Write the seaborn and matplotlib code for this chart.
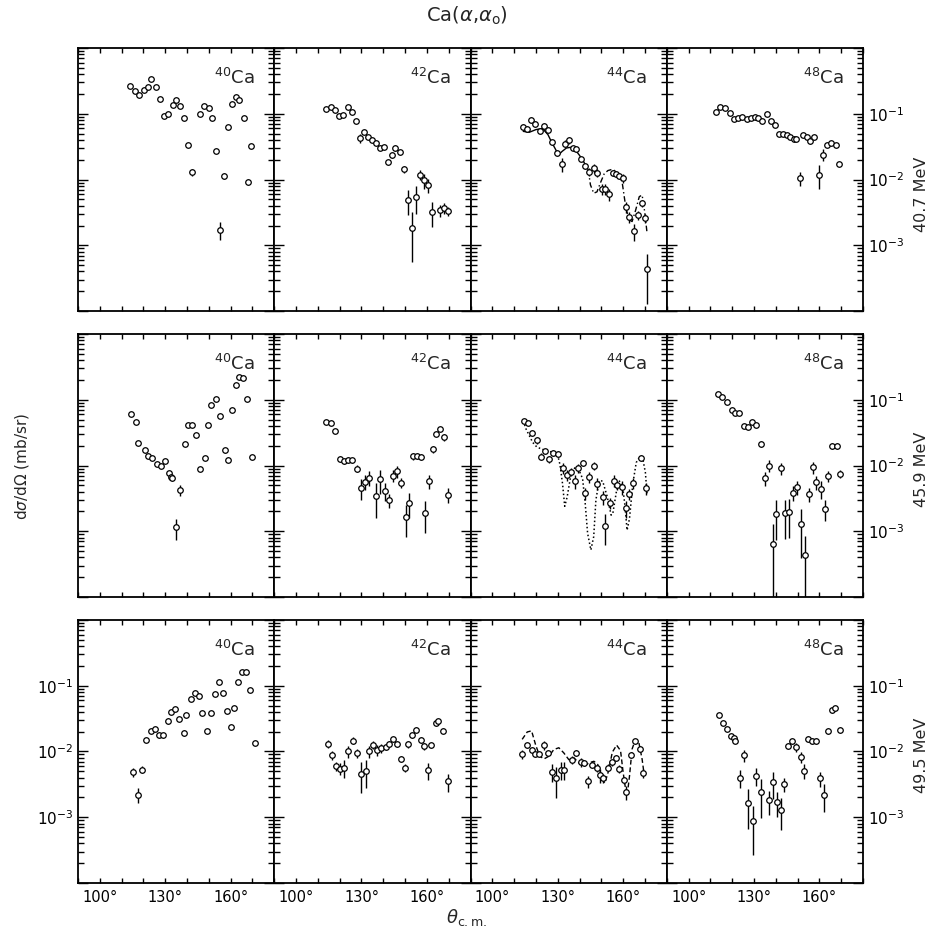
import matplotlib
matplotlib.use("Agg")
import matplotlib.pyplot as plt
import matplotlib.ticker as ticker
import numpy as np
import seaborn as sns

# =============================================================================
# Ca(alpha, alpha0) back-angle cross sections
# theta in degrees (c.m.), sigma in mb/sr, err = relative error
# =============================================================================

isotopes = ["40", "42", "44", "48"]
energies = ["40.7 MeV", "45.9 MeV", "49.5 MeV"]

# ---- 40.7 MeV ----
th_40_a = [113.8,116.2,118.2,120.3,122.0,123.5,125.8,127.7,129.4,131.5,133.4,135.1,136.8,138.5,140.5,142.3,145.8,147.8,150.0,151.4,153.1,155.1,156.9,158.6,160.4,162.3,164.0,166.2,167.8,169.4]
xs_40_a = [0.265,0.222,0.193,0.230,0.259,0.336,0.259,0.166,0.092,0.101,0.136,0.160,0.131,0.087,0.034,0.0129,0.100,0.131,0.121,0.087,0.0268,0.00174,0.0115,0.0633,0.139,0.182,0.160,0.085,0.0093,0.032]
er_40_a = [0.04,0.04,0.04,0.04,0.04,0.04,0.04,0.04,0.04,0.04,0.04,0.04,0.04,0.04,0.05,0.12,0.04,0.04,0.04,0.04,0.05,0.3,0.1,0.04,0.04,0.04,0.04,0.04,0.1,0.05]

th_42_a = [113.8,115.8,117.8,119.8,121.5,123.7,125.5,127.5,129.1,131.1,133.1,134.8,136.5,138.6,140.5,142.2,143.8,145.5,147.5,149.5,151.4,153.1,155.1,156.8,158.8,160.5,162.3,166.0,167.8,169.7]
xs_42_a = [0.119,0.126,0.116,0.094,0.097,0.126,0.106,0.078,0.043,0.052,0.044,0.040,0.0356,0.0302,0.0309,0.0184,0.0239,0.0302,0.0259,0.0144,0.0049,0.00186,0.0055,0.0118,0.0097,0.0083,0.0032,0.0034,0.0037,0.0033]
er_42_a = [0.04,0.04,0.04,0.04,0.04,0.04,0.04,0.05,0.15,0.06,0.06,0.05,0.05,0.08,0.06,0.08,0.1,0.1,0.1,0.12,0.4,0.7,0.45,0.17,0.25,0.25,0.4,0.2,0.2,0.15]

th_44_a = [114.2,115.7,117.7,119.8,121.8,123.7,125.4,127.2,129.5,131.8,133.4,135.2,136.9,138.5,140.6,142.6,144.4,146.5,148.0,150.3,151.8,153.7,155.4,156.8,158.3,159.8,161.4,162.6,164.9,166.9,168.7,170.0,170.9]
xs_44_a = [0.0625,0.0597,0.080,0.070,0.054,0.066,0.0575,0.0368,0.0253,0.0172,0.0351,0.0395,0.0302,0.0291,0.0207,0.0158,0.0132,0.0149,0.0128,0.0072,0.0072,0.0060,0.0128,0.0121,0.0114,0.0105,0.00386,0.00272,0.00164,0.00288,0.00435,0.00256,0.00043]
er_44_a = [0.1,0.1,0.1,0.1,0.1,0.08,0.08,0.1,0.1,0.25,0.12,0.12,0.08,0.08,0.08,0.1,0.15,0.15,0.15,0.2,0.2,0.2,0.1,0.1,0.1,0.15,0.2,0.2,0.3,0.15,0.12,0.15,0.7]

th_48_a = [112.8,114.6,116.5,118.9,120.8,122.8,124.6,126.6,128.5,130.3,131.8,133.8,135.8,138.0,139.5,141.5,143.4,145.1,146.6,148.2,149.2,151.1,152.6,154.3,155.8,157.7,160.0,161.5,163.5,165.4,167.4,169.2]
xs_48_a = [0.106,0.126,0.124,0.104,0.082,0.087,0.090,0.082,0.087,0.089,0.087,0.079,0.100,0.077,0.067,0.050,0.050,0.048,0.044,0.042,0.042,0.0105,0.048,0.044,0.038,0.044,0.0118,0.024,0.034,0.0356,0.034,0.0174]
er_48_a = [0.04,0.04,0.04,0.04,0.04,0.04,0.04,0.04,0.04,0.04,0.04,0.04,0.04,0.04,0.04,0.04,0.04,0.04,0.04,0.05,0.05,0.25,0.05,0.05,0.08,0.05,0.4,0.2,0.05,0.05,0.05,0.08]

# theory curve, 44Ca at 40.7 MeV (solid up to 144 deg, dashed after)
cth_a = [114.2,117.0,120.0,123.0,125.5,127.0,129.5,130.5,132.0,134.0,136.0,138.0,140.0,142.0,144.0,145.0,146.5,148.0,149.5,151.3,153.0,155.0,157.0,159.5,161.3,162.9,164.1,165.7,167.4,168.7,169.9,170.9]
cxs_a = [0.054,0.0524,0.0575,0.0597,0.0483,0.0382,0.0268,0.0239,0.0268,0.0302,0.0309,0.0284,0.0233,0.0184,0.0140,0.0083,0.0062,0.0065,0.0088,0.0122,0.0137,0.0143,0.0132,0.0093,0.0036,0.00242,0.0023,0.0034,0.0055,0.0058,0.0032,0.0016]

# ---- 45.9 MeV ----
th_40_b = [114.2,116.5,117.7,120.5,122.3,123.8,126.2,128.2,130.0,131.8,132.6,133.2,135.1,136.9,139.1,140.5,142.3,144.3,145.8,148.2,149.7,151.2,153.2,155.1,157.4,158.9,160.5,162.5,164.0,165.7,167.7,170.0]
xs_40_b = [0.060,0.0455,0.022,0.017,0.0138,0.0128,0.0104,0.0100,0.0118,0.0077,0.0067,0.0064,0.00115,0.00425,0.021,0.042,0.041,0.029,0.0090,0.0131,0.041,0.084,0.102,0.056,0.017,0.0123,0.071,0.170,0.220,0.212,0.102,0.0134]
er_40_b = [0.04,0.04,0.04,0.04,0.04,0.04,0.04,0.04,0.04,0.08,0.08,0.1,0.35,0.2,0.04,0.04,0.04,0.04,0.05,0.05,0.04,0.04,0.04,0.04,0.08,0.08,0.04,0.04,0.04,0.04,0.04,0.05]

th_42_b = [113.8,115.8,117.8,120.0,121.8,123.8,125.7,128.0,129.7,131.4,133.4,136.5,138.6,140.9,142.6,144.5,146.2,148.2,150.3,151.8,153.8,155.5,157.1,159.1,160.8,162.6,164.2,166.2,168.0,169.7]
xs_42_b = [0.0466,0.0445,0.0333,0.0125,0.0116,0.0123,0.0120,0.0090,0.0046,0.0057,0.0065,0.0035,0.0062,0.0041,0.0030,0.0070,0.0082,0.0055,0.00166,0.0027,0.0140,0.0140,0.0134,0.0019,0.0058,0.0176,0.0303,0.036,0.027,0.0036]
er_42_b = [0.04,0.04,0.06,0.1,0.1,0.1,0.08,0.12,0.35,0.25,0.25,0.55,0.4,0.3,0.25,0.2,0.2,0.18,0.5,0.4,0.12,0.1,0.1,0.5,0.25,0.12,0.08,0.06,0.12,0.25]

th_44_b = [114.6,116.3,118.3,120.3,122.2,124.0,126.2,128.0,129.9,132.2,134.1,136.0,137.8,139.5,141.4,142.6,144.4,146.5,148.0,150.6,151.8,154.1,155.7,157.2,159.5,161.1,162.9,164.7,168.3,170.3]
xs_44_b = [0.0477,0.044,0.031,0.0244,0.0137,0.0164,0.0126,0.0155,0.0150,0.0092,0.0072,0.0081,0.0058,0.0092,0.011,0.0038,0.0067,0.0100,0.0053,0.0033,0.00122,0.0027,0.0059,0.0050,0.0047,0.00225,0.0037,0.0054,0.0132,0.0045]
er_44_b = [0.06,0.06,0.08,0.12,0.12,0.1,0.12,0.1,0.1,0.2,0.2,0.15,0.25,0.15,0.12,0.2,0.2,0.15,0.2,0.25,0.5,0.2,0.2,0.15,0.25,0.3,0.2,0.2,0.1,0.2]

th_48_b = [113.5,115.4,117.4,119.7,121.2,123.2,125.4,127.1,129.2,130.9,133.1,135.2,136.8,138.8,140.3,142.5,144.3,146.2,147.7,149.5,151.5,153.4,155.1,157.1,158.6,160.5,162.5,164.0,166.0,168.0,169.5]
xs_48_b = [0.122,0.111,0.091,0.070,0.062,0.0628,0.0394,0.039,0.0454,0.0418,0.0213,0.0064,0.0100,0.00065,0.00185,0.0091,0.0019,0.00196,0.00385,0.0047,0.0013,0.00043,0.0037,0.0094,0.0056,0.0044,0.0022,0.0069,0.0201,0.0201,0.0075]
er_48_b = [0.03,0.03,0.04,0.05,0.05,0.05,0.06,0.06,0.06,0.06,0.1,0.25,0.2,0.98,0.6,0.2,0.6,0.6,0.25,0.25,0.7,0.99,0.25,0.2,0.25,0.3,0.35,0.2,0.1,0.1,0.15]

# theory curve, 44Ca at 45.9 MeV (dotted)
cth_b = [114.2,115.5,117.0,118.5,120.3,122.5,125.0,127.5,129.9,131.0,132.2,133.2,134.3,136.0,137.8,139.7,141.4,142.6,143.7,145.2,146.5,147.5,149.0,150.6,152.6,154.5,155.3,157.0,158.3,159.8,160.8,161.8,162.9,164.4,166.0,167.4,168.9,170.2,171.0]
cxs_b = [0.0477,0.0357,0.0283,0.0225,0.0193,0.0178,0.0168,0.0159,0.0147,0.0104,0.0053,0.0024,0.0033,0.0071,0.0092,0.0086,0.0063,0.00264,0.00093,0.00052,0.00083,0.0030,0.0059,0.0058,0.00345,0.00176,0.0019,0.0042,0.0058,0.0047,0.0025,0.00104,0.00155,0.0052,0.0111,0.0132,0.0132,0.0078,0.0035]

# ---- 49.5 MeV ----
th_40_c = [115.4,117.4,119.2,121.4,123.4,125.5,127.2,129.1,131.1,132.8,134.6,136.5,138.5,139.7,141.8,143.5,145.4,146.8,149.1,150.8,152.8,154.6,156.3,158.3,160.0,161.7,163.5,165.1,166.9,169.1,171.1]
xs_40_c = [0.0049,0.0022,0.0053,0.0151,0.0208,0.0223,0.0176,0.0176,0.029,0.0398,0.0448,0.0314,0.0191,0.0358,0.0638,0.0762,0.0702,0.0379,0.0208,0.0389,0.0753,0.112,0.078,0.0418,0.0237,0.0464,0.112,0.162,0.160,0.0858,0.0133]
er_40_c = [0.15,0.25,0.12,0.05,0.05,0.05,0.1,0.1,0.1,0.05,0.05,0.05,0.1,0.08,0.04,0.04,0.04,0.04,0.05,0.04,0.04,0.04,0.04,0.04,0.05,0.04,0.04,0.04,0.04,0.04,0.05]

th_42_c = [114.8,116.5,118.3,120.3,122.1,124.0,126.1,128.1,129.8,131.9,133.3,135.3,137.1,138.9,141.2,142.6,144.6,146.4,148.1,149.9,151.5,153.3,155.1,157.3,158.8,160.6,162.1,164.0,165.2,167.6,169.5]
xs_42_c = [0.0131,0.0087,0.0060,0.0055,0.0057,0.0100,0.0146,0.0094,0.0046,0.0051,0.0100,0.0127,0.0106,0.0113,0.0119,0.013,0.0153,0.013,0.0077,0.0057,0.013,0.0176,0.0215,0.0151,0.0121,0.0052,0.0124,0.0267,0.029,0.0208,0.0035]
er_42_c = [0.15,0.15,0.15,0.2,0.3,0.2,0.12,0.15,0.5,0.45,0.2,0.15,0.2,0.15,0.1,0.1,0.08,0.1,0.1,0.15,0.12,0.1,0.08,0.1,0.12,0.3,0.1,0.08,0.08,0.08,0.3]

th_44_c = [113.7,116.0,118.0,119.8,121.4,123.7,125.5,127.2,129.2,131.3,133.1,136.6,138.5,140.5,142.0,143.8,145.8,147.8,149.6,150.8,153.1,155.0,156.5,158.3,160.3,161.5,163.8,165.6,167.5,169.2]
xs_44_c = [0.0092,0.0124,0.0107,0.0090,0.0092,0.0125,0.0095,0.0049,0.0039,0.0053,0.0053,0.0075,0.0095,0.0069,0.0067,0.0035,0.0063,0.0056,0.0044,0.0039,0.0057,0.0068,0.0081,0.0055,0.0037,0.0024,0.0089,0.0142,0.0109,0.0047]
er_44_c = [0.15,0.08,0.08,0.08,0.08,0.15,0.1,0.3,0.5,0.3,0.3,0.15,0.1,0.15,0.1,0.2,0.12,0.12,0.25,0.15,0.12,0.1,0.1,0.15,0.12,0.25,0.1,0.08,0.1,0.15]

th_48_c = [113.9,115.8,117.7,119.5,120.8,121.5,123.8,125.3,127.3,129.4,131.1,133.3,137.0,138.9,140.5,142.3,143.8,145.8,147.3,149.4,151.4,153.0,154.8,156.8,158.3,160.2,162.0,163.8,165.9,167.3,169.5]
xs_48_c = [0.0361,0.0270,0.0219,0.0173,0.0158,0.0142,0.0040,0.0088,0.00167,0.00088,0.0043,0.0024,0.0018,0.0034,0.0017,0.0013,0.0032,0.0122,0.0142,0.0115,0.0083,0.0051,0.0154,0.0145,0.0145,0.0039,0.0022,0.0206,0.0425,0.0452,0.0214]
er_48_c = [0.05,0.05,0.05,0.06,0.06,0.06,0.3,0.2,0.6,0.7,0.3,0.6,0.4,0.45,0.4,0.5,0.25,0.1,0.1,0.15,0.2,0.25,0.1,0.1,0.1,0.25,0.45,0.1,0.08,0.08,0.1]

# theory curve, 44Ca at 49.5 MeV (dashed)
cth_c = [113.7,116.0,118.0,119.8,121.7,123.7,126.0,128.2,130.5,132.8,135.1,137.4,139.7,142.0,144.3,146.6,148.4,150.4,151.6,153.4,155.0,157.0,158.8,160.0,161.1,161.8,162.9,164.1,165.6,167.2,168.7,169.5]
cxs_c = [0.0153,0.0198,0.0206,0.0128,0.0085,0.0077,0.0085,0.0107,0.0114,0.0095,0.0075,0.0080,0.0067,0.0059,0.0067,0.0071,0.0063,0.0039,0.0033,0.0052,0.0097,0.0125,0.0103,0.0048,0.0027,0.0021,0.0042,0.0109,0.0151,0.0137,0.0076,0.0048]

# rows = energies, columns = isotopes
panels = [
    [(th_40_a, xs_40_a, er_40_a), (th_42_a, xs_42_a, er_42_a), (th_44_a, xs_44_a, er_44_a), (th_48_a, xs_48_a, er_48_a)],
    [(th_40_b, xs_40_b, er_40_b), (th_42_b, xs_42_b, er_42_b), (th_44_b, xs_44_b, er_44_b), (th_48_b, xs_48_b, er_48_b)],
    [(th_40_c, xs_40_c, er_40_c), (th_42_c, xs_42_c, er_42_c), (th_44_c, xs_44_c, er_44_c), (th_48_c, xs_48_c, er_48_c)],
]

# =============================================================================
# plotting
# =============================================================================
sns.set_style("ticks")
plt.rcParams['font.family'] = ['DejaVu Sans']
plt.rcParams['mathtext.fontset'] = 'dejavusans'

fig = plt.figure(figsize=(9.33, 9.36), dpi=100)
axes = fig.subplots(3, 4)
fig.subplots_adjust(left=0.0836, right=0.925, bottom=0.0566, top=0.9487, wspace=0, hspace=0.087)

# log-axis minor tick positions (2..9 in every decade)
minor_locs = [s * 10.0 ** d for d in range(-4, 0) for s in range(2, 10)]


def decade_label(v, pos):
    e = int(round(np.log10(v)))
    if -3 <= e <= -1:
        return r"$10^{%d}$" % e
    return ""


def xlabel_fmt(v, pos):
    if int(round(v)) in (100, 130, 160):
        return "%d°" % int(round(v))
    return ""


for r in range(3):
    for c in range(4):
        ax = axes[r, c]
        th, xs, er = panels[r][c]
        th = np.array(th)
        xs = np.array(xs)
        er = np.array(er)
        ax.set_yscale('log')
        lo = xs * np.minimum(er, 0.995)
        hi = xs * er
        ax.errorbar(th, xs, yerr=[lo, hi], fmt='none', ecolor='black', elinewidth=1.0, capsize=0, zorder=2)
        sns.scatterplot(x=th, y=xs, ax=ax, marker='o', s=16, color='white',
                        edgecolor='black', linewidth=0.9, zorder=3)

        # theory curves for 44Ca
        if c == 2 and r == 0:
            sns.lineplot(x=cth_a[:15], y=cxs_a[:15], ax=ax, color='black',
                         linewidth=1.0, estimator=None, sort=False)
            sns.lineplot(x=cth_a[14:], y=cxs_a[14:], ax=ax, color='black',
                         linewidth=1.0, linestyle=(0, (4, 2, 1, 2)), estimator=None, sort=False)
        if c == 2 and r == 1:
            sns.lineplot(x=cth_b, y=cxs_b, ax=ax, color='black', linewidth=1.1,
                         linestyle=(0, (1, 1.6)), estimator=None, sort=False)
        if c == 2 and r == 2:
            sns.lineplot(x=cth_c, y=cxs_c, ax=ax, color='black', linewidth=1.0,
                         linestyle=(0, (3.5, 2)), estimator=None, sort=False)

        ax.text(0.9, 0.885, r"$^{%s}$Ca" % isotopes[c], transform=ax.transAxes,
                ha='right', va='center', fontsize=13)

        ax.set_xlim(90, 180)
        ax.set_ylim(1e-4, 1)
        ax.set_xlabel("")
        ax.set_ylabel("")
        ax.xaxis.set_major_locator(ticker.MultipleLocator(10))
        ax.xaxis.set_major_formatter(ticker.FuncFormatter(xlabel_fmt))
        ax.xaxis.set_minor_locator(ticker.NullLocator())
        ax.yaxis.set_major_locator(ticker.FixedLocator([1e-4, 1e-3, 1e-2, 1e-1, 1e0]))
        ax.yaxis.set_minor_locator(ticker.FixedLocator(minor_locs))
        ax.yaxis.set_major_formatter(ticker.FuncFormatter(decade_label))
        ax.yaxis.set_minor_formatter(ticker.NullFormatter())
        ax.tick_params(which='both', direction='in', top=True, right=True, left=True,
                       bottom=True, width=1.0, colors='black')
        ax.tick_params(axis='x', which='major', length=3.5, pad=5, labelsize=10.5)
        ax.tick_params(axis='y', which='major', length=7, labelsize=11)
        ax.tick_params(axis='y', which='minor', length=4, width=1.0)
        ax.tick_params(labelleft=(c == 0 and r == 2), labelright=(c == 3), labelbottom=(r == 2))
        for s in ax.spines.values():
            s.set_linewidth(1.3)
            s.set_color('black')

# energy labels on the right
for r, y in enumerate([0.792, 0.499, 0.193]):
    fig.text(0.988, y, energies[r], rotation=90, ha='center', va='center', fontsize=11.5)

fig.text(0.024, 0.502, r"d$\sigma$/d$\Omega$ (mb/sr)", rotation=90, ha='center', va='center', fontsize=11)
fig.text(0.5, 0.983, r"Ca($\alpha$,$\alpha_{\rm o}$)", ha='center', va='center', fontsize=14)
fig.text(0.5, 0.02, r"$\theta_{\rm c.m.}$", ha='center', va='center', fontsize=13)

fig.savefig("out.png", dpi=100)
